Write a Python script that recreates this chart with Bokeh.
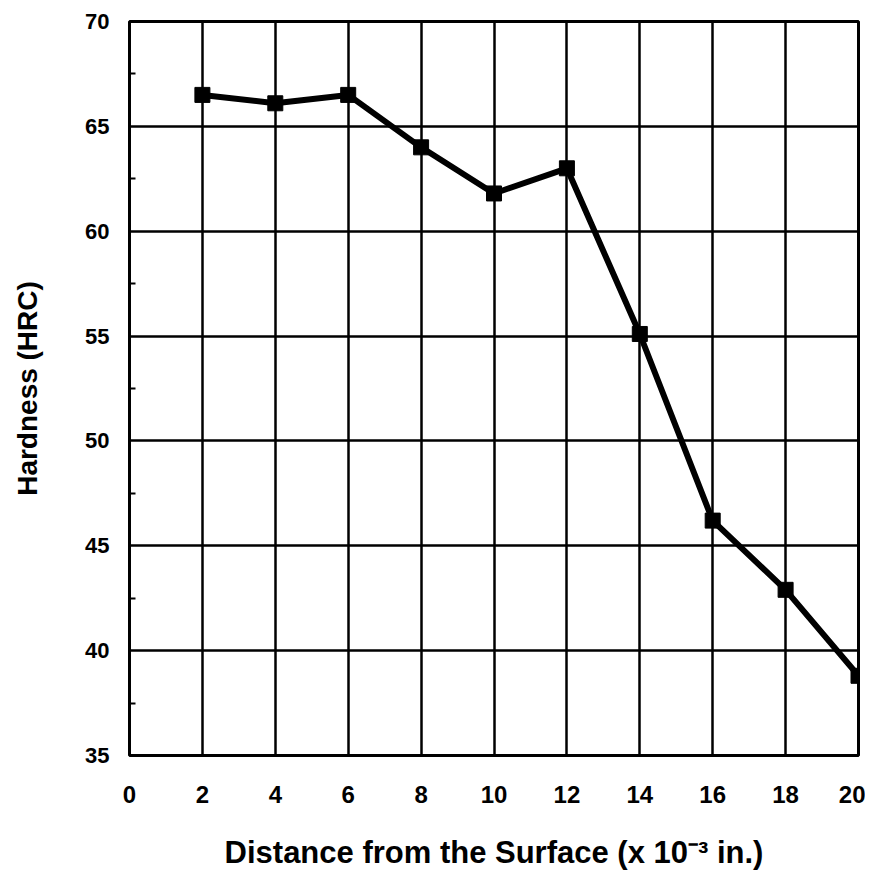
from bokeh.plotting import figure
from bokeh.embed import file_html
from bokeh.resources import INLINE
from bokeh.models import FixedTicker, Range1d

distance = [2, 4, 6, 8, 10, 12, 14, 16, 18, 20]
hardness = [66.5, 66.1, 66.5, 64.0, 61.8, 63.0, 55.1, 46.2, 42.9, 38.8]
x_ticks = [0, 2, 4, 6, 8, 10, 12, 14, 16, 18, 20]
y_ticks = [35, 40, 45, 50, 55, 60, 65, 70]
y_minor = [37.5, 42.5, 47.5, 52.5, 57.5, 62.5, 67.5]

p = figure(width=865, height=872, output_backend="svg", toolbar_location=None,
           x_range=Range1d(0, 20), y_range=Range1d(35, 70),
           min_border_left=129, min_border_right=7, min_border_top=21, min_border_bottom=114)
p.background_fill_color = "white"
p.border_fill_color = "white"
p.outline_line_color = "black"
p.outline_line_width = 3

font = "Liberation Sans"
p.xaxis.ticker = FixedTicker(ticks=x_ticks)
p.yaxis.ticker = FixedTicker(ticks=y_ticks, minor_ticks=y_minor)
for ax in (p.xaxis, p.yaxis):
    ax.major_tick_in = 0
    ax.major_tick_out = 0
    ax.axis_line_color = None
    ax.major_label_text_font = font
    ax.major_label_text_font_style = "bold"
    ax.major_label_text_color = "black"
    ax.axis_label_text_font = font
    ax.axis_label_text_font_style = "bold"
    ax.axis_label_text_color = "black"
p.xaxis.major_label_text_font_size = "24px"
p.yaxis.major_label_text_font_size = "22px"
p.xaxis.axis_label_text_font_size = "31px"
p.yaxis.axis_label_text_font_size = "28px"
p.xaxis.minor_tick_line_color = None
p.yaxis.minor_tick_in = 6
p.yaxis.minor_tick_out = 0
p.yaxis.minor_tick_line_width = 2
p.yaxis.minor_tick_line_color = "black"
p.xaxis.major_label_standoff = 30
p.yaxis.major_label_standoff = 20
p.xaxis.axis_label = "Distance from the Surface (x 10\u207b\u00b3 in.)"
p.yaxis.axis_label = "Hardness (HRC)"
p.xaxis.axis_label_standoff = 29
p.yaxis.axis_label_standoff = 39

p.xgrid.ticker = FixedTicker(ticks=x_ticks)
p.ygrid.ticker = FixedTicker(ticks=y_ticks)
p.grid.grid_line_color = "black"
p.grid.grid_line_width = 2.5
p.grid.grid_line_alpha = 1

p.line(distance, hardness, line_color="black", line_width=6)
p.scatter(distance, hardness, marker="square", size=15, fill_color="black", line_color="black")

open("out.html", "w").write(file_html(p, INLINE))
